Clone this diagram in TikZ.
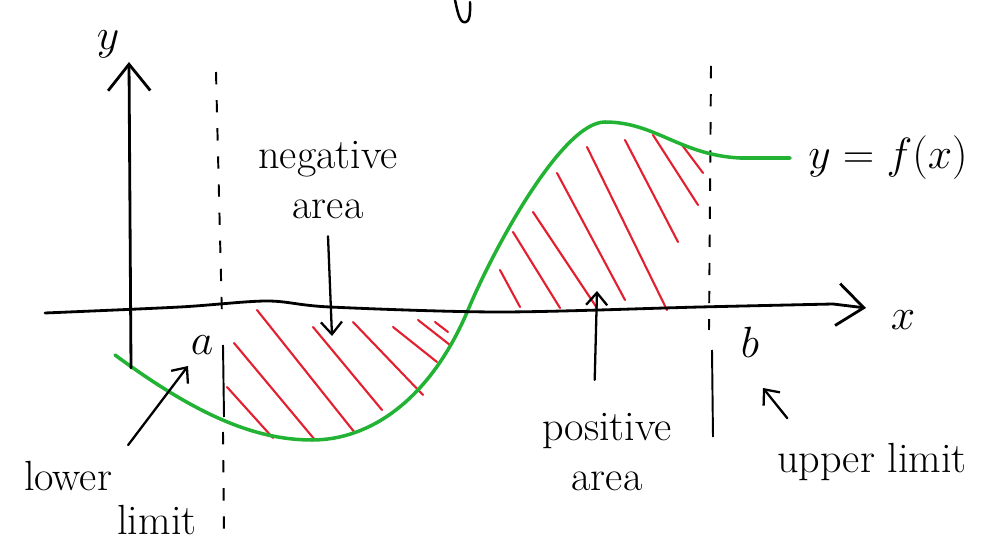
\documentclass[tikz,border=0pt]{standalone}
\usepackage{amsmath}
\usetikzlibrary{arrows.meta,positioning}
\definecolor{curvegreen}{RGB}{34,178,52}
\definecolor{hatchred}{RGB}{226,32,48}
\tikzset{
  axisline/.style={line width=1.6pt,line cap=round,-{Straight Barb[length=15pt,width=24pt]}},
  pointer/.style={line width=1.3pt,line cap=round,-{Straight Barb[length=7pt,width=12pt]}},
  limline/.style={line width=1.1pt},
  limdash/.style={limline,dash pattern=on 7pt off 9pt},
  hatch/.style={hatchred,line width=1.2pt,line cap=round},
  lbl/.style={font=\fontsize{24}{30}\selectfont,inner sep=0pt,align=center},
  bigl/.style={font=\fontsize{36}{40}\selectfont,inner sep=0pt},
}

\begin{document}
\begin{tikzpicture}[x=0.2mm,y=-0.2mm]
\useasboundingbox (0,0) rectangle (1000,557);
% cut-off stroke at the top edge
\draw[line width=1.4pt,line cap=round] (455,0) .. controls (458,14) and (460,24) .. (466,22) .. controls (471,20) and (470,8) .. (470,2);
% limits a and b
\draw[limdash] (216,72) -- (222,318);
\draw[limline] (223,345) -- (224,417);
\draw[limdash] (223,432) -- (224,535);
\draw[limdash] (711,66) -- (709,330);
\draw[limline] (712,350) -- (713,437);
% hatching
\foreach \xa/\ya/\xb/\yb in {227/387/273/438, 234/343/315/440, 257/310/355/433, 313/327/382/410,
                             353/322/423/395, 393/327/437/362, 418/320/450/345, 435/322/448/332,
                             500/270/520/307, 513/232/560/308, 533/212/597/308, 557/173/625/300,
                             587/147/667/310, 625/140/678/242, 653/135/698/205, 682/145/703/173}
  \draw[hatch] (\xa,\ya) -- (\xb,\yb);
% the curve
\draw[curvegreen,line width=2pt,line cap=round] (115,355)
  .. controls (190,410) and (250,440) .. (312,440)
  .. controls (370,440) and (430,400) .. (468,310)
  .. controls (493,250) and (562,122) .. (605,122)
  .. controls (655,122) and (680,155) .. (740,158) -- (790,158);
% axes
\coordinate (xend) at (866,308);
\coordinate (yend) at (129,62);
\draw[axisline] plot[smooth,tension=0.5] coordinates {(45,313) (180,307) (267,301) (330,307) (500,312) (700,307) (833,304)} -- (xend);
\draw[axisline] (131,368) -- (yend);
\node[bigl] (xlab) at (903,320) {$x$};
\node[bigl] (ylab) at (108,44) {$y$};
\node[bigl] (alab) at (202,345) {$a$};
\node[bigl] (blab) at (750,342) {$b$};
\node[font=\fontsize{27}{30}\selectfont,inner sep=0pt] (fxlab) at (888,158) {$y=f(x)$};
% area labels
\node[lbl] (neglab) at (328,180) {negative\\[-2pt]area};
\node[lbl] (poslab) at (607,452) {positive\\[-2pt]area};
\coordinate (negtip) at (332,336);
\coordinate (postip) at (597,291);
\draw[pointer] ([yshift=-10pt]neglab.south) -- (negtip);
\draw[pointer] ([xshift=-7pt,yshift=19pt]poslab.north) -- (postip);
% limit labels
\node[lbl] (lowlab) at (68,476) {lower};
\node[lbl] (lowlab2) at (157,520) {limit};
\node[lbl] (upplab) at (872,462) {upper limit};
\coordinate (atip) at (188,366);
\coordinate (btip) at (763,388);
\draw[pointer] ([xshift=9pt,yshift=9pt]lowlab.north east) -- (atip);
\draw[pointer] ([xshift=6pt,yshift=14pt]upplab.north west) -- (btip);
\end{tikzpicture}
\end{document}
